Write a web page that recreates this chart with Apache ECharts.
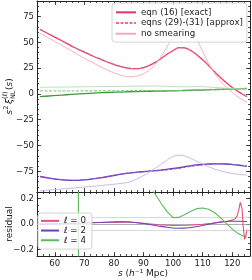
<!DOCTYPE html>
<html><head><meta charset="utf-8">
<script src="https://cdn.jsdelivr.net/npm/echarts@6/dist/echarts.min.js"></script>
<style>html,body{margin:0;padding:0;background:#fff}#c{width:252px;height:280px}</style>
</head><body><div id="c"></div>
<script>
// ---------- data ----------
const xTicks = [60, 70, 80, 90, 100, 110, 120];
const topYTicks = [-75, -50, -25, 0, 25, 50, 75];
const resYTicks = [-0.2, 0, 0.2];
const residualRefLines = [-0.05, 0, 0.05];

const sTop = [55, 58, 61, 64, 67, 70, 73, 76, 79, 82, 85, 88, 91, 94, 97, 100, 102, 104, 106, 108, 110, 112, 114, 116, 118, 120, 122, 124, 125];

const ell0Exact = [62.5, 58, 53.5, 49, 44.5, 40.5, 36.5, 33, 29.5, 26.7, 24.8, 24.5, 26.5, 30.5, 36.5, 42, 44.8, 44.6, 42, 38, 33, 27.5, 21.5, 16, 10.8, 6.2, 2.2, -1, -2.5];
const ell0Approx = [62.6, 58.1, 53.6, 49.1, 44.6, 40.6, 36.6, 33.1, 29.6, 26.8, 24.9, 24.4, 26.4, 30.4, 36.4, 41.9, 44.7, 44.5, 42, 38, 33.1, 27.6, 21.7, 16.2, 11, 6.4, 2.4, -0.8, -2.4];
const ell0NoSmear = [59, 54, 49.5, 44.5, 39.5, 34.5, 30, 25.5, 21.5, 18.5, 16.7, 17.5, 21, 28.5, 41, 56, 66, 70, 64, 53.5, 41, 29.5, 20, 12.5, 6.5, 1.5, -3, -6.5, -8];

const ell2Exact = [-80, -81.5, -82.7, -83.5, -83.8, -83.2, -82.2, -81, -79.5, -78, -76.7, -75.8, -75, -74.2, -73.3, -72.2, -71.5, -70.5, -69.6, -68.8, -68.3, -67.9, -67.7, -67.7, -67.9, -68.4, -69, -69.7, -70];
const ell2Approx = [-80, -81.4, -82.6, -83.4, -83.7, -83.1, -82.1, -80.9, -79.4, -77.8, -76.5, -75.8, -75.2, -74.6, -73.9, -72.9, -72.1, -71.1, -70.2, -69.4, -68.8, -68.2, -67.9, -67.7, -67.8, -68.2, -68.8, -69.5, -69.9];
const ell2NoSmear = [-94, -93.2, -92.5, -91.7, -91, -90.2, -89.4, -88.6, -87.8, -86.8, -85.5, -82, -77.5, -72, -66, -60.5, -59.3, -60.2, -62.5, -65.3, -68, -70.5, -72.8, -74.6, -76, -77, -77.8, -78.4, -78.8];

const ell4Exact = [-2.6, -2, -1.4, -0.8, -0.2, 0.3, 0.8, 1.2, 1.5, 1.8, 2.1, 2.3, 2.5, 2.7, 2.85, 3, 3.1, 3.3, 3.5, 3.7, 3.8, 4, 4.2, 4.4, 4.6, 4.8, 5, 5.2, 5.3];
const ell4Approx = [2.9, 2.9, 2.9, 2.9, 2.9, 2.95, 3, 3, 3, 3.05, 3.1, 3.15, 3.25, 3.3, 3.2, 3.15, 3.25, 3.5, 3.85, 4.15, 4.25, 4.35, 4.4, 4.5, 4.55, 4.6, 4.65, 4.7, 4.75];
const ell4NoSmear = [6.4, 6.5, 6.6, 6.7, 6.8, 6.9, 7, 7.1, 7.2, 7.3, 7.4, 7.5, 7.6, 7.7, 7.6, 7.2, 7, 6.9, 7, 7.1, 7, 6.7, 6.3, 5.9, 5.5, 5.2, 5, 4.9, 4.9];

const res0S = [55, 60, 65, 70, 75, 80, 85, 90, 95, 100, 105, 110, 113, 116, 118, 120, 121, 121.6, 122.2, 122.7, 123, 123.3, 123.7, 124.2, 124.6, 125];
const res0V = [0.002, 0.004, 0.006, 0.009, 0.012, 0.015, 0.016, 0.006, -0.006, -0.012, -0.01, -0.002, 0.006, 0.015, 0.02, 0.03, 0.042, 0.06, 0.11, 0.17, 0.18, 0.12, -0.02, -0.12, -0.09, -0.045];

const res2S = [55, 60, 65, 70, 75, 80, 84, 88, 91, 95, 98, 101, 104, 107, 110, 113, 116, 119, 122, 125];
const res2V = [-0.004, 0.0, 0.004, 0.008, 0.012, 0.016, 0.018, 0.01, 0.0, -0.015, -0.026, -0.033, -0.032, -0.024, -0.012, 0.002, 0.015, 0.022, 0.022, 0.02];

const res4S = [55, 58, 61, 64, 66, 67.2, 68, 68, 68.8, 70, 72, 75, 78, 82, 86, 90, 93.5, 96, 98, 100, 102, 104, 106, 108, 110, 112, 114, 116, 118, 120, 122, 124, 125];
const res4V = [-0.55, -0.75, -1.1, -2, -4, -12, -60, 60, 12, 5, 2.4, 1.3, 0.9, 0.62, 0.45, 0.34, 0.25, 0.16, 0.095, 0.05, 0.052, 0.075, 0.1, 0.12, 0.125, 0.115, 0.09, 0.05, 0.005, -0.04, -0.075, -0.098, -0.1];

// ---------- styling ----------
const FONT = 'DejaVu Sans';
const AX = '#222';
const col = {
  e0: '#e2365f', a0: '#ea6d8a', n0: '#f3a9bb',
  e2: '#6b35b8', a2: '#8a5cc9', n2: '#c9b0e6',
  e4: '#3f9a3f', a4: '#78c078', n4: '#b2dcae',
  r0: '#e8507a', r2: '#7040c0', r4: '#5cb85c'
};
const zip = (xs, ys) => xs.map((x, i) => [x, ys[i]]);
const minus = s => String(s).replace('-', '\u2212');

function axesFor(dim, grid, min, max, minorInt, majors, labels, showLabels, fmt) {
  const pos = dim === 'x' ? ['bottom', 'top'] : ['left', 'right'];
  const base = { type: 'value', gridIndex: grid, min: min, max: max, splitLine: { show: false } };
  const out = [];
  pos.forEach((p, k) => {
    out.push(Object.assign({}, base, {
      position: p, interval: minorInt,
      axisLine: { show: true, onZero: false, lineStyle: { color: AX, width: 1 } },
      axisTick: { show: true, inside: true, length: 2, lineStyle: { color: AX, width: 0.8 } },
      axisLabel: (k === 0 && showLabels) ? {
        show: true, customValues: labels, formatter: fmt, fontSize: 8.5, fontFamily: FONT,
        color: AX, margin: 3
      } : { show: false }
    }));
    out.push(Object.assign({}, base, {
      position: p, interval: minorInt,
      axisLine: { show: false, onZero: false },
      axisTick: { show: true, inside: true, length: 4, customValues: majors, lineStyle: { color: AX, width: 0.8 } },
      axisLabel: { show: false }
    }));
  });
  return out;
}

const xAxes = [].concat(
  axesFor('x', 0, 54, 126, 2, xTicks, xTicks, false, v => String(v)),
  axesFor('x', 1, 54, 126, 2, xTicks, xTicks, true, v => String(v))
);
const yAxes = [].concat(
  axesFor('y', 0, -95, 90, 5, topYTicks, topYTicks, true, v => minus(v)),
  axesFor('y', 1, -0.25, 0.25, 0.05, resYTicks, resYTicks, true, v => minus(Number(v).toFixed(1)))
);

function line(name, xs, ys, color, width, type, xi, smooth, extra) {
  return Object.assign({
    type: 'line', name: name, data: zip(xs, ys), xAxisIndex: xi, yAxisIndex: xi,
    symbol: 'none', smooth: smooth, clip: true, silent: true, animation: false,
    itemStyle: { color: color },
    lineStyle: { color: color, width: width, type: type }
  }, extra || {});
}

const N_EX = 'eqn (16) [exact]', N_AP = 'eqns (29)-(31) [approx]', N_NS = 'no smearing';
const dash = [3, 1.5];
const series = [
  line(N_EX, sTop, ell0Exact, col.e0, 1.3, 'solid', 0, 0.3),
  line(N_AP, sTop, ell0Approx, col.a0, 1.0, dash, 0, 0.3),
  line(N_NS, sTop, ell0NoSmear, col.n0, 0.9, 'solid', 0, 0.3),
  line(N_EX, sTop, ell2Exact, col.e2, 1.3, 'solid', 0, 0.3),
  line(N_AP, sTop, ell2Approx, col.a2, 1.0, dash, 0, 0.3),
  line(N_NS, sTop, ell2NoSmear, col.n2, 0.9, 'solid', 0, 0.3),
  line(N_EX, sTop, ell4Exact, col.e4, 1.3, 'solid', 0, 0.3),
  line(N_AP, sTop, ell4Approx, col.a4, 1.0, dash, 0, 0.3),
  line(N_NS, sTop, ell4NoSmear, col.n4, 0.9, 'solid', 0, 0.3),
  line('\u2113 = 0', res0S, res0V, col.r0, 1.1, 'solid', 4, false, {
    markLine: {
      silent: true, symbol: 'none', z: 1, animation: false, label: { show: false },
      data: residualRefLines.map(v => ({ yAxis: v, lineStyle: { color: v === 0 ? '#9a9a9a' : '#cfcfcf', width: 0.8, type: 'solid' } }))
    }
  }),
  line('\u2113 = 2', res2S, res2V, col.r2, 1.1, 'solid', 4, 0.3),
  line('\u2113 = 4', res4S, res4V, col.r4, 1.1, 'solid', 4, false)
];

const option = {
  animation: false,
  backgroundColor: '#fff',
  grid: [
    { left: 37, top: 1, width: 213, height: 191, containLabel: false, outerBoundsMode: 'none' },
    { left: 37, top: 192, width: 213, height: 64, containLabel: false, outerBoundsMode: 'none' }
  ],
  xAxis: xAxes,
  yAxis: yAxes,
  legend: [
    {
      orient: 'vertical', left: 112, top: 3, padding: [4, 4, 3, 3],
      itemWidth: 20, itemHeight: 8, itemGap: 0, selectedMode: false,
      itemStyle: { opacity: 0, borderWidth: 0 },
      data: [N_EX, N_AP, N_NS],
      textStyle: { fontSize: 8.7, fontFamily: FONT, color: AX, lineHeight: 10.7 },
      backgroundColor: 'rgba(255,255,255,0.8)', borderColor: '#d4d4d4', borderWidth: 1, borderRadius: 3
    },
    {
      orient: 'vertical', left: 38, top: 213, padding: [3, 6, 4, 2],
      itemWidth: 18, itemHeight: 8, itemGap: 0, selectedMode: false,
      itemStyle: { opacity: 0, borderWidth: 0 },
      data: ['\u2113 = 0', '\u2113 = 2', '\u2113 = 4'],
      formatter: n => '{it|\u2113}' + n.slice(1),
      textStyle: { fontSize: 8.7, fontFamily: FONT, color: AX, lineHeight: 9.7,
        rich: { it: { fontStyle: 'italic', fontSize: 8.7, fontFamily: FONT, color: AX } } },
      backgroundColor: 'rgba(255,255,255,0.8)', borderColor: '#d4d4d4', borderWidth: 1, borderRadius: 3
    }
  ],
  graphic: [
    {
      type: 'group', x: 10, y: 96.5, rotation: Math.PI / 2,
      children: [
        { type: 'text', x: -18, y: 0, style: { text: 's', font: 'italic 9px "DejaVu Sans"', fill: AX, verticalAlign: 'middle' } },
        { type: 'text', x: -13.2, y: -3.5, style: { text: '2', font: '6.5px "DejaVu Sans"', fill: AX, verticalAlign: 'middle' } },
        { type: 'text', x: -7.6, y: 0, style: { text: '\u03be', font: 'italic 9px "DejaVu Sans"', fill: AX, verticalAlign: 'middle' } },
        { type: 'text', x: -2.6, y: 3, style: { text: 'NL', font: '6.5px "DejaVu Sans"', fill: AX, verticalAlign: 'middle' } },
        { type: 'text', x: -2.6, y: -4.2, style: { text: '(\u2113)', font: '6.5px "DejaVu Sans"', fill: AX, verticalAlign: 'middle' } },
        { type: 'text', x: 6.5, y: 0, style: { text: '(', font: '9px "DejaVu Sans"', fill: AX, verticalAlign: 'middle' } },
        { type: 'text', x: 10, y: 0, style: { text: 's', font: 'italic 9px "DejaVu Sans"', fill: AX, verticalAlign: 'middle' } },
        { type: 'text', x: 14.7, y: 0, style: { text: ')', font: '9px "DejaVu Sans"', fill: AX, verticalAlign: 'middle' } }
      ]
    },
    {
      type: 'text', x: 10, y: 224, rotation: Math.PI / 2,
      style: { text: 'residual', font: '9px "DejaVu Sans"', fill: AX, align: 'center', verticalAlign: 'middle' }
    },
    {
      type: 'text', x: 143, y: 274,
      style: {
        text: '{i|s} ({i|h}\u207b\u00b9 Mpc)', align: 'center', verticalAlign: 'middle',
        font: '9px "DejaVu Sans"', fill: AX,
        rich: { i: { fontStyle: 'italic', fontSize: 9, fontFamily: FONT, fill: AX } }
      }
    }
  ],
  series: series
};

const chart = echarts.init(document.getElementById('c'), null, { renderer: 'canvas' });
chart.setOption(option);
</script>
</body></html>
